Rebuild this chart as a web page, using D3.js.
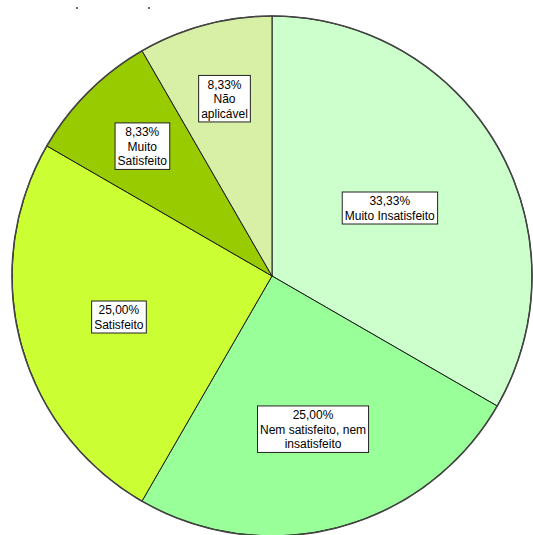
<!DOCTYPE html>
<html>
<head>
<meta charset="utf-8">
<script src="https://cdn.jsdelivr.net/npm/d3@7"></script>
<style>
  html, body { margin: 0; padding: 0; background: #fff; }
  svg { display: block; }
  text { font-family: "Liberation Sans", Arial, sans-serif; font-size: 12px; fill: #000; }
</style>
</head>
<body>
<svg id="chart" width="533" height="535"></svg>
<script>
// Satisfaction categories, in clockwise order from 12 o'clock
const categories = ["Muito Insatisfeito", "Nem satisfeito, nem insatisfeito", "Satisfeito", "Muito Satisfeito", "Não aplicável"];
const labelLines = [["33,33%", "Muito Insatisfeito"], ["25,00%", "Nem satisfeito, nem", "insatisfeito"], ["25,00%", "Satisfeito"], ["8,33%", "Muito", "Satisfeito"], ["8,33%", "Não", "aplicável"]];
const percents = [33.33, 25.00, 25.00, 8.33, 8.33];
const colors = ["#ccffcc", "#99ff99", "#ccff33", "#99cc00", "#d8f0a6"];

const svg = d3.select("#chart");
const cx = 272, cy = 276, radius = 260;
const g = svg.append("g").attr("transform", `translate(${cx},${cy})`);

const color = d3.scaleOrdinal().domain(categories).range(colors);

const pie = d3.pie().sort(null).value(d => d.value);
const data = categories.map((c, i) => ({ name: c, value: percents[i], lines: labelLines[i] }));
const arcs = pie(data);

const arc = d3.arc().innerRadius(0).outerRadius(radius);

g.selectAll("path.slice")
  .data(arcs)
  .enter().append("path")
  .attr("class", "slice")
  .attr("d", arc)
  .attr("fill", d => color(d.data.name))
  .attr("stroke", "#1a1a1a")
  .attr("stroke-width", 1);

// outer rim
g.append("circle")
  .attr("r", radius)
  .attr("fill", "none")
  .attr("stroke", "#444")
  .attr("stroke-width", 1.6);

// labels: narrower slices get their label pushed further out
const total = d3.sum(percents);
const labelRadius = d3.scaleLinear()
  .domain([1 / 12, 1 / 4, 1 / 3])
  .range([0.706, 0.61, 0.523])
  .clamp(true);

const labels = g.selectAll("g.label")
  .data(arcs)
  .enter().append("g")
  .attr("class", "label")
  .attr("transform", d => {
    const k = labelRadius(d.data.value / total);
    const a = (d.startAngle + d.endAngle) / 2;
    return `translate(${Math.sin(a) * radius * k},${-Math.cos(a) * radius * k})`;
  });

const lineH = 14.5;
labels.each(function(d) {
  const sel = d3.select(this);
  const n = d.data.lines.length;
  const rect = sel.append("rect");
  const txt = sel.append("text").attr("text-anchor", "middle");
  d.data.lines.forEach((ln, i) => {
    txt.append("tspan")
      .attr("x", 0)
      .attr("y", (i - (n - 1) / 2) * lineH + 4.5)
      .text(ln);
  });
  const bb = txt.node().getBBox();
  const h = n * lineH + 3;
  rect.attr("x", bb.x - 2.5)
    .attr("y", -h / 2)
    .attr("width", bb.width + 5)
    .attr("height", h)
    .attr("fill", "#fff")
    .attr("stroke", "#222")
    .attr("stroke-width", 1);
});

// small marks left over above the pie
svg.selectAll("circle.mark")
  .data([77, 149])
  .enter().append("circle")
  .attr("class", "mark")
  .attr("cx", d => d)
  .attr("cy", 8)
  .attr("r", 0.9)
  .attr("fill", "#222");
</script>
</body>
</html>
